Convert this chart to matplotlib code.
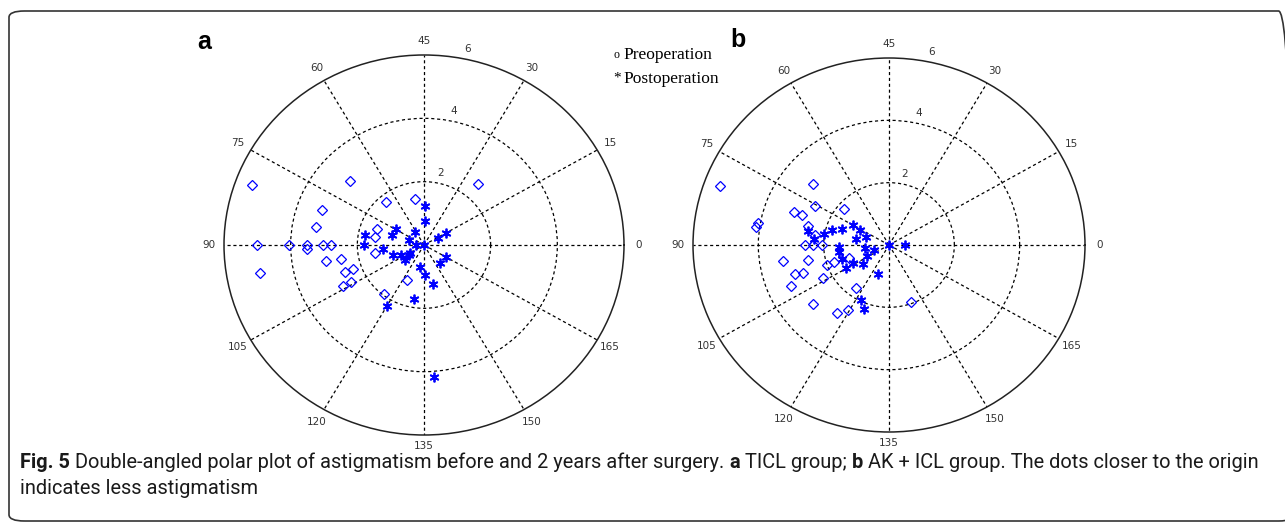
import numpy as np
import matplotlib.pyplot as plt
from matplotlib.patches import FancyBboxPatch

# astigmatism axis (deg, 0-180) and magnitude (D)
a_pre_axis = [80, 69, 25, 65, 50, 80, 85, 80, 85, 90, 90, 90, 91, 90, 90, 95, 95,
              95, 95, 100, 100, 104, 104, 123, 116]
a_pre_mag = [5.5, 3.0, 2.5, 1.76, 1.47, 3.26, 3.29, 1.49, 1.5, 5.0, 4.04, 3.52,
             3.52, 3.03, 2.78, 1.5, 2.99, 2.52, 5.01, 2.26, 2.52, 2.49, 2.74, 1.22, 1.97]
a_post_axis = [44.5, 44, 75, 81, 61, 85, 90, 93, 80, 90, 0, 99, 102, 110, 108, 105,
               14, 15, 165, 155, 130, 136, 141, 130, 120, 137]
a_post_mag = [1.22, 0.75, 0.98, 1.0, 0.5, 1.8, 1.8, 1.25, 0.49, 0.25, 0, 0.98, 0.74,
              0.73, 0.55, 0.48, 0.49, 0.76, 0.75, 0.75, 0.72, 0.96, 1.25, 1.72, 2.23, 4.17]

b_pre_axis = [80, 70, 75.5, 70, 80, 80, 85, 86, 83, 86, 90, 90, 90, 94.5, 95.5, 99,
              99.5, 99, 99, 99.5, 104, 102, 117, 109.5, 117, 119.5, 145]
b_pre_mag = [5.5, 3.05, 2.58, 1.8, 3.1, 2.82, 4.08, 4.1, 2.55, 2.3, 2.56, 2.32, 2.06,
             3.3, 2.52, 1.76, 2.0, 1.3, 3.02, 2.77, 2.28, 3.27, 1.72, 3.0, 2.71, 2.45, 1.93]
b_post_axis = [75, 75.5, 80, 82, 85, 85, 87.5, 84.5, 80, 94, 99, 104, 109, 104, 104.5,
               99, 91.5, 94, 125, 122, 125, 0, 0]
b_post_mag = [1.26, 1.01, 1.53, 1.8, 2.02, 2.52, 2.29, 1.02, 0.76, 0.75, 0.48, 0.77,
              1.0, 1.26, 1.5, 1.5, 1.53, 1.55, 0.98, 1.96, 2.2, 0, 0.5]

axis_labels = list(range(0, 180, 15))
ring_values = [2, 4, 6]
RMAX = 6

W, H = 1285, 525
fig = plt.figure(figsize=(W / 100, H / 100), dpi=100)

CAP_FONT = ["Roboto", "DejaVu Sans"]
SERIF = ["Liberation Serif", "DejaVu Serif"]


def polar_panel(cx, cy, rx, ry, pre_axis, pre_mag, post_axis, post_mag):
    """
    add a double-angled polar panel centred at pixel (cx, cy)
    """
    ax = fig.add_axes([(cx - rx) / W, 1 - (cy + ry) / H, 2 * rx / W, 2 * ry / H],
                      projection="polar")
    ax.set_aspect("auto")
    ax.set_theta_zero_location("E")
    ax.set_ylim(0, RMAX)
    ax.set_xticks(np.radians(np.arange(0, 360, 30)))
    ax.set_xticklabels([])
    ax.set_yticks(ring_values[:-1])
    ax.set_yticklabels([])
    ax.grid(True, color="black", linestyle=(0, (2.5, 2.2)), linewidth=0.9)
    ax.spines["polar"].set_linewidth(1.1)
    ax.spines["polar"].set_color("#222222")
    ax.set_facecolor("none")

    # double angle: plotted angle = 2 * axis
    ax.plot(np.radians(2 * np.array(pre_axis)), pre_mag, "D", mfc="none",
            mec="#0000ff", ms=4.8, mew=0.9, clip_on=False)
    ax.plot(np.radians(2 * np.array(post_axis)), post_mag, linestyle="none",
            marker=(6, 2, 0), color="#0000ff", ms=7, mew=1.3, clip_on=False)

    for a in axis_labels:
        frac = 1.06 if a == 135 else 1.075
        ax.text(np.radians(2 * a), RMAX * frac, str(a), ha="center", va="center",
                fontsize=7.5, color="#333333", family="DejaVu Sans")
    for r in ring_values:
        ax.text(np.radians(78), r + 0.32, str(r), ha="center", va="center",
                fontsize=7.5, color="#333333", family="DejaVu Sans")
    return ax


polar_panel(424, 245, 200, 190, a_pre_axis, a_pre_mag, a_post_axis, a_post_mag)
polar_panel(889, 245, 196, 187, b_pre_axis, b_pre_mag, b_post_axis, b_post_mag)

# panel letters
fig.text(197 / W, 1 - 42 / H, "a", fontsize=18, weight="bold",
         family=["Liberation Sans", "DejaVu Sans"], va="center")
fig.text(730 / W, 1 - 40 / H, "b", fontsize=18, weight="bold",
         family=["Liberation Sans", "DejaVu Sans"], va="center")

# legend text
fig.text(613 / W, 1 - 55 / H, "o", fontsize=8.5, family=SERIF, va="center")
fig.text(623 / W, 1 - 55 / H, "Preoperation", fontsize=12.5, family=SERIF, va="center")
fig.text(613 / W, 1 - 78 / H, "*", fontsize=11, family=SERIF, va="center")
fig.text(623 / W, 1 - 79 / H, "Postoperation", fontsize=12.5, family=SERIF, va="center")

# frame
frame = FancyBboxPatch((9 / W, 1 - 521 / H), 1285 / W, (521 - 11) / H,
                       boxstyle="round,pad=0,rounding_size=0.012",
                       transform=fig.transFigure, fill=False,
                       edgecolor="#333333", linewidth=1.2, clip_on=False)
fig.patches.append(frame)

# caption
line1 = [("Fig. 5", "bold"),
         (" Double-angled polar plot of astigmatism before and 2 years after surgery. ", "normal"),
         ("a", "bold"), (" TICL group; ", "normal"), ("b", "bold"),
         (" AK + ICL group. The dots closer to the origin", "normal")]
line2 = [("indicates less astigmatism", "normal")]

renderer = fig.canvas.get_renderer()


def run_width(s, size, weight):
    t1 = fig.text(0, 0, "A" + s + "A", fontsize=size, weight=weight, family=CAP_FONT)
    t2 = fig.text(0, 0, "AA", fontsize=size, weight=weight, family=CAP_FONT)
    w = t1.get_window_extent(renderer).width - t2.get_window_extent(renderer).width
    t1.remove()
    t2.remove()
    return w


size = 13
total = sum(run_width(s, size, w) for s, w in line1)
size = size * (1258 - 20) / total


def draw_line(runs, x0, y):
    x = x0
    for s, w in runs:
        fig.text(x / W, 1 - y / H, s, fontsize=size, weight=w, family=CAP_FONT,
                 va="baseline", color="#1a1a1a")
        x += run_width(s, size, w)


draw_line(line1, 20, 468)
draw_line(line2, 20, 494)

fig.savefig("out.png", dpi=100)
